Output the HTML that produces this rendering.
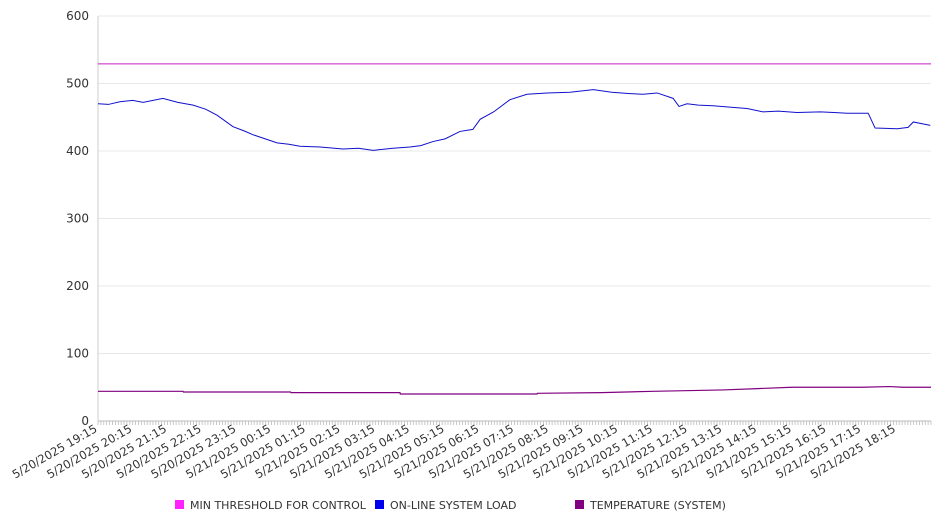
<!DOCTYPE html>
<html><head><meta charset="utf-8"><style>
body{margin:0;background:#fff;font-family:"Liberation Sans","DejaVu Sans",sans-serif;}
svg text{font-family:"DejaVu Sans","Liberation Sans",sans-serif;fill:#333;}
</style></head><body>
<svg id="chart" width="946" height="526" xmlns="http://www.w3.org/2000/svg"></svg>
<script>
const xTickLabels=["5/20/2025 19:15","5/20/2025 20:15","5/20/2025 21:15","5/20/2025 22:15","5/20/2025 23:15","5/21/2025 00:15","5/21/2025 01:15","5/21/2025 02:15","5/21/2025 03:15","5/21/2025 04:15","5/21/2025 05:15","5/21/2025 06:15","5/21/2025 07:15","5/21/2025 08:15","5/21/2025 09:15","5/21/2025 10:15","5/21/2025 11:15","5/21/2025 12:15","5/21/2025 13:15","5/21/2025 14:15","5/21/2025 15:15","5/21/2025 16:15","5/21/2025 17:15","5/21/2025 18:15"];
const yTicks=[0,100,200,300,400,500,600];
const loadHours=[0,0.3,0.63,1.0,1.3,1.87,2.3,2.74,3.1,3.43,3.89,4.2,4.47,5.16,5.5,5.82,6.4,7.06,7.5,7.93,8.5,8.99,9.3,9.65,10.0,10.43,10.8,11.01,11.4,11.87,12.36,12.94,13.6,14.27,14.8,15.33,15.7,16.11,16.57,16.74,16.97,17.3,17.72,18.2,18.7,19.16,19.6,20.14,20.81,21.2,21.59,22.19,22.39,23.03,23.34,23.49,23.98];
const loadValues=[470,469,473,475,472,478,472,468,462,453,436,430,424,412,410,407,406,403,404,401,404,406,408,414,418,429,432,447,458,476,484,486,487,491,487,485,484,486,478,466,470,468,467,465,463,458,459,457,458,457,456,456,434,433,435,443,438];
const tempHours=[0,2.45,2.46,5.55,5.56,8.7,8.71,12.65,12.66,14.5,16,18,19,20,22,22.8,23.2,24];
const tempValues=[44,44,43,43,42,42,40,40,41,42,44,46,48,50,50,51,50,50];
const thresholdValue=529;
const X0=98,X1=931,Y0=421,Y1=16,HOURS=24,YMAX=600;
const xs=h=>X0+(X1-X0)*h/HOURS;
const ys=v=>Y0-(Y0-Y1)*v/YMAX;
const NS="http://www.w3.org/2000/svg";
const svg=document.getElementById('chart');
function mk(t,a){const e=document.createElementNS(NS,t);for(const k in a)e.setAttribute(k,a[k]);svg.appendChild(e);return e;}
yTicks.forEach(v=>{
  const g=mk('line',{x1:X0,x2:X1,y1:ys(v),y2:ys(v),stroke:v===0?'#bbb':'#e8e8e8','stroke-width':1});
  
  
  const t=mk('text',{x:89,y:ys(v)+4,'text-anchor':'end','font-size':12});
  t.textContent=v;
  
  
});
const ax=mk('line',{x1:X0,x2:X0,y1:Y1,y2:Y0,stroke:'#ccc','stroke-width':1});


for(let i=0;i<=HOURS*12;i++){
  const x=xs(i/12);
  const tk=mk('line',{x1:x,x2:x,y1:Y0,y2:Y0+4,stroke:'#bbb','stroke-width':0.8});
  
  
}
xTickLabels.forEach((s,i)=>{
  const x=xs(i),y=Y0+10;
  const t=mk('text',{x:x,y:y,'text-anchor':'end','font-size':11.5,transform:`rotate(-30 ${x} ${y})`});
  t.textContent=s;
  
  
});
const th=mk('line',{x1:X0,x2:X1,y1:ys(thresholdValue),y2:ys(thresholdValue),stroke:'#c81ec8','stroke-width':1});


const lp=mk('polyline',{points:loadHours.map((h,i)=>xs(Math.min(h,HOURS))+','+ys(loadValues[i])).join(' '),fill:'none',stroke:'#1010cc','stroke-width':1});


const tp=mk('polyline',{points:tempHours.map((h,i)=>xs(h)+','+ys(tempValues[i])).join(' '),fill:'none',stroke:'#800080','stroke-width':1.2});


const legend=[["MIN THRESHOLD FOR CONTROL","#ff22ff",175],["ON-LINE SYSTEM LOAD","#0000ee",375],["TEMPERATURE (SYSTEM)","#800080",575]];
legend.forEach(([n,c,x])=>{
  const r=mk('rect',{x:x,y:500,width:9,height:9,fill:c});
  
  
  const t=mk('text',{x:x+15,y:509,'font-size':11});
  t.textContent=n;
  
  
});
</script>
</body></html>
